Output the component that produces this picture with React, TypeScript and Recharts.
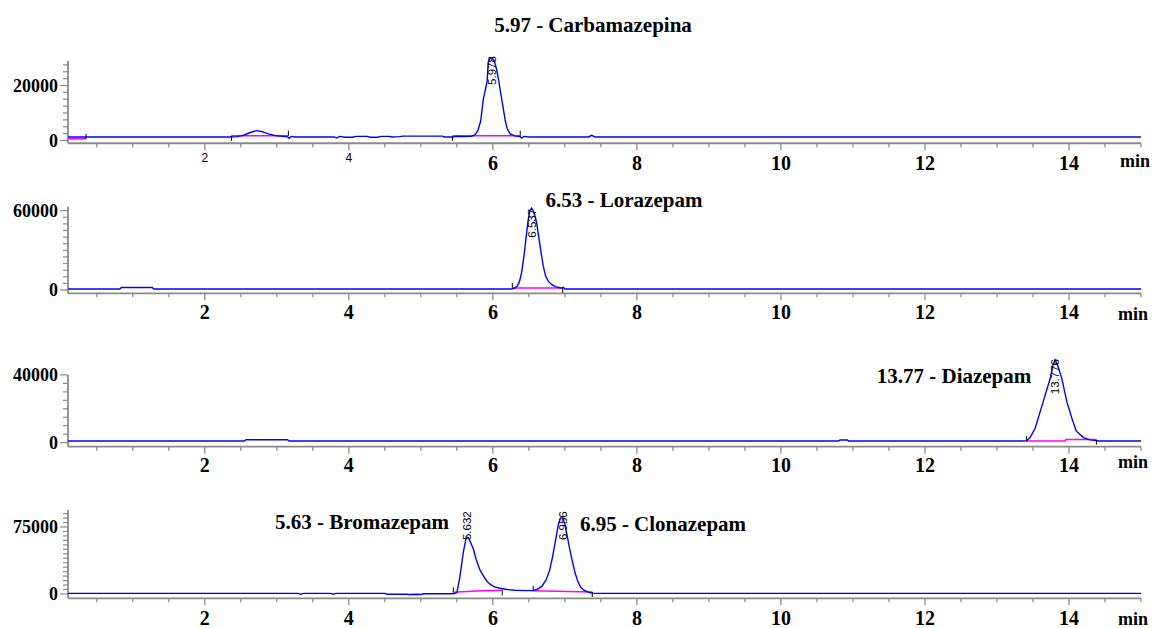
import React from 'react';
import { LineChart, Line, XAxis, YAxis, ReferenceLine, ReferenceDot } from 'recharts';

// ---------- shared axis data ----------
const xTicks = [0.5, 1, 1.5, 2, 2.5, 3, 3.5, 4, 4.5, 5, 5.5, 6, 6.5, 7, 7.5, 8, 8.5, 9, 9.5, 10, 10.5, 11, 11.5, 12, 12.5, 13, 13.5, 14, 14.5, 15];
const xLabels = [2, 4, 6, 8, 10, 12, 14];
const xDomain = [0.1, 15];

// ---------- Panel 1: Carbamazepina ----------
const carbTime = [0.1, 2.35, 2.45, 2.55, 2.63, 2.72, 2.8, 2.88, 2.97, 3.08, 3.15, 3.17, 3.2, 3.25, 3.8, 3.83, 3.87, 3.95, 4.05, 4.1, 4.25, 4.3, 4.4, 4.45, 4.55, 4.6, 4.7, 4.75, 5.3, 5.32, 5.45, 5.5, 5.6, 5.7, 5.75, 5.79, 5.83, 5.865, 5.9, 5.92, 5.935, 5.96, 5.99, 6.02, 6.05, 6.08, 6.11, 6.14, 6.17, 6.2, 6.24, 6.3, 6.38, 6.4, 6.43, 6.5, 7.33, 7.37, 7.42, 15];
const carbSignal = [1300, 1300, 1400, 2000, 2900, 3600, 3200, 2400, 1800, 1500, 1300, 800, 1500, 1300, 1300, 900, 1500, 1200, 1200, 1500, 1500, 1200, 1200, 1500, 1500, 1300, 1400, 1600, 1600, 1300, 1300, 1500, 1400, 1500, 2000, 3500, 7000, 14700, 19000, 21500, 28500, 29800, 30000, 29000, 26000, 22000, 17000, 12300, 7500, 4200, 2400, 1700, 1400, 900, 1500, 1300, 1300, 1900, 1300, 1300];
const carbBaseTime = [0.1, 0.35, 0.36, 2.37, 3.16, 3.17, 5.44, 6.38];
const carbBaseSignal = [600, 600, null, 1700, 1700, null, 1700, 1700];
const carbMarks = [0.35, 2.37, 3.16, 5.44, 6.38];
const carbMarkSignal = [600, 1700, 1700, 1700, 1700];
const carbPeakTime = [5.99];
const carbPeakText = ['5.978'];
const carbPeakY = [20200];
const carbYTicks = [0, 2500, 5000, 7500, 10000, 12500, 15000, 17500, 20000, 22500, 25000, 27500];
const carbYLabels = [0, 20000];

// ---------- Panel 2: Lorazepam ----------
const loraTime = [0.1, 0.82, 0.84, 1.27, 1.29, 6.25, 6.3, 6.34, 6.37, 6.4, 6.43, 6.46, 6.49, 6.515, 6.537, 6.56, 6.585, 6.61, 6.64, 6.67, 6.7, 6.73, 6.77, 6.82, 6.87, 6.93, 6.96, 6.98, 7.0, 15];
const loraSignal = [800, 800, 1900, 1900, 800, 800, 1200, 3000, 6500, 13500, 25000, 39000, 53000, 60000, 62000, 60000, 56000, 50000, 39000, 28000, 18000, 11000, 6500, 4000, 2500, 1700, 1500, 2000, 800, 800];
const loraBaseTime = [6.27, 6.97];
const loraBaseSignal = [1500, 1500];
const loraMarks = [6.27, 6.97];
const loraMarkSignal = [1500, 1500];
const loraPeakTime = [6.54];
const loraPeakText = ['6.537'];
const loraPeakY = [39600];
const loraYTicks = [0, 5000, 10000, 15000, 20000, 25000, 30000, 35000, 40000, 45000, 50000, 55000, 60000];
const loraYLabels = [0, 60000];

// ---------- Panel 3: Diazepam ----------
const diazTime = [0.1, 2.55, 2.57, 3.15, 3.17, 10.8, 10.82, 10.92, 10.94, 13.35, 13.41, 13.46, 13.53, 13.6, 13.67, 13.74, 13.78, 13.806, 13.84, 13.9, 13.97, 14.04, 14.1, 14.2, 14.29, 14.38, 14.4, 15];
const diazSignal = [1000, 1000, 1700, 1700, 1000, 1000, 1600, 1600, 1000, 1000, 1100, 3000, 8500, 18300, 28200, 38000, 46000, 48900, 46000, 38000, 24200, 14400, 6900, 3000, 1600, 1200, 1000, 1000];
const diazBaseTime = [13.41, 13.95, 13.96, 14.38];
const diazBaseSignal = [900, 900, 1800, 1800];
const diazMarks = [13.41, 14.38];
const diazMarkSignal = [900, 1800];
const diazPeakTime = [13.806];
const diazPeakText = ['13.776'];
const diazPeakY = [28600];
const diazYTicks = [0, 5000, 10000, 15000, 20000, 25000, 30000, 35000, 40000];
const diazYLabels = [0, 40000];

// ---------- Panel 4: Bromazepam / Clonazepam ----------
const bromTime = [0.1, 3.3, 3.33, 3.37, 3.75, 3.78, 3.82, 4.5, 4.53, 4.8, 4.84, 4.95, 5.0, 5.04, 5.45, 5.5, 5.54, 5.59, 5.63, 5.66, 5.69, 5.73, 5.77, 5.82, 5.87, 5.92, 5.96, 6.02, 6.1, 6.2, 6.3, 6.45, 6.56, 6.62, 6.68, 6.74, 6.79, 6.83, 6.87, 6.91, 6.94, 6.97, 7.0, 7.03, 7.06, 7.1, 7.14, 7.18, 7.22, 7.27, 7.33, 7.38, 7.45, 15];
const bromSignal = [700, 700, -300, 700, 700, -300, 700, 700, -200, -200, -600, -300, -600, 300, 300, 1500, 18000, 47000, 63500, 63000, 58000, 50000, 38000, 27000, 20000, 14000, 11000, 8000, 6500, 5000, 4200, 3800, 3800, 5500, 8500, 16000, 27000, 42000, 60000, 78000, 85000, 85000, 78000, 66000, 53000, 38000, 24000, 14000, 7500, 4000, 2000, 1000, 700, 700];
const bromBaseTime = [5.45, 5.77, 6.13, 6.14, 6.56, 7.38];
const bromBaseSignal = [1900, 3400, 4100, null, 3700, 2300];
const bromMarks = [5.45, 6.13, 6.56, 7.38];
const bromMarkSignal = [1900, 4100, 3700, 2300];
const bromPeakTime = [5.635, 6.976];
const bromPeakText = ['5.632', '6.956'];
const bromPeakY = [60400, 60400];
const bromYTicks = [0, 5000, 10000, 15000, 20000, 25000, 30000, 35000, 40000, 45000, 50000, 55000, 60000, 65000, 70000, 75000, 80000, 85000, 90000];
const bromYLabels = [0, 75000];

// ---------- titles ----------
const titleText = ['5.97 - Carbamazepina', '6.53 - Lorazepam', '13.77 - Diazepam', '5.63 - Bromazepam', '6.95 - Clonazepam'];

const SERIF = '"Liberation Serif", "Times New Roman", serif';
const SANS = '"Liberation Sans", Arial, sans-serif';
const AXIS = '#8a8a8a';

const zip = (t: number[], v: (number | null)[]) => t.map((x, i) => ({ t: x, v: v[i] }));

type PanelProps = {
  plotTop: number;
  plotBottom: number;
  yDomain: [number, number];
  axisTopValue: number;
  pxPer1000: number;
  yTicks: number[];
  yLabels: number[];
  trace: { t: number; v: number | null }[];
  base: { t: number; v: number | null }[];
  marks: number[];
  markSignal: number[];
  peakTime: number[];
  peakText: string[];
  peakY: number[];
  smallLabels?: number[];
  labelOffset: number;
};

const H = 628;
const W = 1161;
const XH = 20;

function Panel(p: PanelProps) {
  const data = p.trace;
  const markLen = (5 * 1000) / p.pxPer1000;
  const XTick = (props: any) => {
    const { x, y, payload } = props;
    const v = payload.value;
    const isMajor = xLabels.includes(v);
    const isSmall = p.smallLabels ? p.smallLabels.includes(v) : false;
    return (
      <g>
        <line x1={x} x2={x} y1={y} y2={y + (isMajor ? 7 : 4)} stroke={AXIS} strokeWidth={1.3} />
        {isMajor ? (
          isSmall ? (
            <text x={x} y={y + 15} textAnchor="middle" dominantBaseline="central" fontFamily={SANS} fontSize={12} fill="#000">
              {v}
            </text>
          ) : (
            <text x={x} y={y + p.labelOffset} textAnchor="middle" dominantBaseline="central" fontFamily={SERIF} fontWeight="bold" fontSize={20} fill="#000">
              {v}
            </text>
          )
        ) : null}
      </g>
    );
  };
  const YTick = (props: any) => {
    const { x, y, payload } = props;
    const v = payload.value;
    const isLabel = p.yLabels.includes(v);
    return (
      <g>
        <line x1={x - (isLabel ? 8 : 5)} x2={x} y1={y} y2={y} stroke={AXIS} strokeWidth={1.2} />
        {isLabel ? (
          <text x={x - 10} y={y} textAnchor="end" dominantBaseline="central" fontFamily={SERIF} fontWeight="bold" fontSize={18} fill="#000">
            {v}
          </text>
        ) : null}
      </g>
    );
  };
  return (
    <div style={{ position: 'absolute', left: 0, top: 0, width: W, height: H, pointerEvents: 'none' }}>
      <LineChart
        width={W}
        height={H}
        data={data}
        margin={{ top: p.plotTop, bottom: H - p.plotBottom - XH, left: 0, right: W - 1141 }}
      >
        <XAxis
          dataKey="t"
          type="number"
          domain={xDomain}
          ticks={xTicks}
          interval={0}
          height={XH}
          tickSize={0}
          tickMargin={0}
          tickLine={false}
          axisLine={{ stroke: AXIS, strokeWidth: 1.8 }}
          tick={XTick}
          allowDataOverflow
        />
        <YAxis
          type="number"
          domain={p.yDomain}
          ticks={p.yTicks}
          interval={0}
          width={68}
          tickSize={0}
          tickMargin={0}
          tickLine={false}
          axisLine={false}
          tick={YTick}
        />
        <ReferenceLine
          segment={[
            { x: 0.1, y: p.yDomain[0] },
            { x: 0.1, y: p.axisTopValue },
          ]}
          stroke={AXIS}
          strokeWidth={1.8}
          ifOverflow="visible"
        />
        <Line
          data={p.base}
          dataKey="v"
          type="linear"
          stroke="#ff00ff"
          strokeWidth={1.5}
          dot={false}
          connectNulls={false}
          isAnimationActive={false}
        />
        <Line
          data={p.trace}
          dataKey="v"
          type="linear"
          stroke="#0000ff"
          strokeWidth={1.4}
          dot={false}
          isAnimationActive={false}
        />
        {p.marks.map((m, i) => (
          <ReferenceLine
            key={'m' + i}
            segment={[
              { x: m, y: p.markSignal[i] },
              { x: m, y: p.markSignal[i] + (i % 2 === 0 ? markLen : -markLen) },
            ]}
            stroke="#000"
            strokeWidth={1}
            ifOverflow="visible"
          />
        ))}
        {p.peakTime.map((t, i) => (
          <ReferenceDot
            key={'p' + i}
            x={t}
            y={p.peakY[i]}
            r={0}
            ifOverflow="visible"
            shape={(sp: any) => (
              <text
                x={sp.cx}
                y={sp.cy}
                transform={`rotate(-90 ${sp.cx} ${sp.cy})`}
                textAnchor="start"
                dominantBaseline="central"
                fontFamily={SANS}
                fontSize={11.5}
                fill="#000"
              >
                {p.peakText[i]}
              </text>
            )}
          />
        ))}
      </LineChart>
    </div>
  );
}

export default function App() {
  return (
    <div style={{ position: 'absolute', left: 0, top: 0, width: W, height: H, background: '#fff', overflow: 'hidden' }}>
      <Panel
        plotTop={58}
        plotBottom={143.25}
        yDomain={[-1000, 30000]}
        axisTopValue={29000}
        pxPer1000={2.75}
        yTicks={carbYTicks}
        yLabels={carbYLabels}
        trace={zip(carbTime, carbSignal)}
        base={zip(carbBaseTime, carbBaseSignal)}
        marks={carbMarks}
        markSignal={carbMarkSignal}
        peakTime={carbPeakTime}
        peakText={carbPeakText}
        peakY={carbPeakY}
        smallLabels={[2, 4]}
        labelOffset={20}
      />
      <Panel
        plotTop={206.7}
        plotBottom={293.3}
        yDomain={[-2500, 63000]}
        axisTopValue={63000}
        pxPer1000={1.3217}
        yTicks={loraYTicks}
        yLabels={loraYLabels}
        trace={zip(loraTime, loraSignal)}
        base={zip(loraBaseTime, loraBaseSignal)}
        marks={loraMarks}
        markSignal={loraMarkSignal}
        peakTime={loraPeakTime}
        peakText={loraPeakText}
        peakY={loraPeakY}
        labelOffset={19}
      />
      <Panel
        plotTop={358}
        plotBottom={446.7}
        yDomain={[-2400, 50000]}
        axisTopValue={40000}
        pxPer1000={1.6925}
        yTicks={diazYTicks}
        yLabels={diazYLabels}
        trace={zip(diazTime, diazSignal)}
        base={zip(diazBaseTime, diazBaseSignal)}
        marks={diazMarks}
        markSignal={diazMarkSignal}
        peakTime={diazPeakTime}
        peakText={diazPeakText}
        peakY={diazPeakY}
        labelOffset={18}
      />
      <Panel
        plotTop={510}
        plotBottom={598.3}
        yDomain={[-4800, 94000]}
        axisTopValue={94000}
        pxPer1000={0.8933}
        yTicks={bromYTicks}
        yLabels={bromYLabels}
        trace={zip(bromTime, bromSignal)}
        base={zip(bromBaseTime, bromBaseSignal)}
        marks={bromMarks}
        markSignal={bromMarkSignal}
        peakTime={bromPeakTime}
        peakText={bromPeakText}
        peakY={bromPeakY}
        labelOffset={20}
      />
      <svg width={W} height={H} style={{ position: 'absolute', left: 0, top: 0, pointerEvents: 'none' }}>
        <g fontFamily={SERIF} fontWeight="bold" fill="#000">
          <text x={593} y={25} textAnchor="middle" dominantBaseline="central" fontSize={21}>{titleText[0]}</text>
          <text x={624} y={200} textAnchor="middle" dominantBaseline="central" fontSize={21}>{titleText[1]}</text>
          <text x={954} y={376} textAnchor="middle" dominantBaseline="central" fontSize={21}>{titleText[2]}</text>
          <text x={362} y={522} textAnchor="middle" dominantBaseline="central" fontSize={21}>{titleText[3]}</text>
          <text x={663} y={524} textAnchor="middle" dominantBaseline="central" fontSize={21}>{titleText[4]}</text>
          <text x={1135} y={161} textAnchor="middle" dominantBaseline="central" fontSize={18}>min</text>
          <text x={1133} y={314} textAnchor="middle" dominantBaseline="central" fontSize={18}>min</text>
          <text x={1133} y={462} textAnchor="middle" dominantBaseline="central" fontSize={18}>min</text>
          <text x={1133} y={619} textAnchor="middle" dominantBaseline="central" fontSize={18}>min</text>
        </g>
      </svg>
    </div>
  );
}
